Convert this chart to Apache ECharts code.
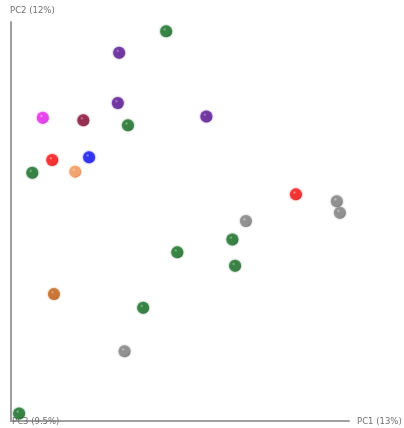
<!DOCTYPE html>
<html>
<head>
<meta charset="utf-8">
<script src="https://cdn.jsdelivr.net/npm/echarts@6/dist/echarts.min.js"></script>
<style>
  html, body { margin: 0; padding: 0; background: #ffffff; }
  #chart { width: 404px; height: 428px; }
</style>
</head>
<body>
<div id="chart"></div>
<script>
// PCoA sample coordinates (PC1, PC2), grouped by sample colour
const greenSamples   = [[45.9, 97.7], [34.6, 74.1], [6.3, 62.2], [65.5, 45.5], [49.2, 42.3], [66.3, 38.9], [39.1, 28.4], [2.4, 1.9]];
const purpleSamples  = [[32.0, 92.3], [31.6, 79.7], [57.8, 76.3]];
const magentaSamples = [[9.4, 76.0]];
const maroonSamples  = [[21.4, 75.4]];
const redSamples     = [[12.2, 65.4], [84.3, 56.8]];
const blueSamples    = [[23.1, 66.1]];
const peachSamples   = [[19.0, 62.5]];
const greySamples    = [[96.4, 55.1], [97.3, 52.2], [69.5, 50.1], [33.6, 17.5]];
const brownSamples   = [[12.7, 31.8]];

const axisTitles = { x: 'PC1 (13%)', y: 'PC2 (12%)', z: 'PC3 (9.5%)' };

const groups = [
  { name: 'green',   data: greenSamples,   base: '#2f7d3c', dark: '#18502a', hi: '#8cc496' },
  { name: 'purple',  data: purpleSamples,  base: '#6b2f9e', dark: '#421668', hi: '#b48ed6' },
  { name: 'magenta', data: magentaSamples, base: '#e43cec', dark: '#a418a8', hi: '#f6aef8' },
  { name: 'maroon',  data: maroonSamples,  base: '#93264a', dark: '#5e122c', hi: '#d08ca2' },
  { name: 'red',     data: redSamples,     base: '#f42a2a', dark: '#b81010', hi: '#fca0a0' },
  { name: 'blue',    data: blueSamples,    base: '#2a2af2', dark: '#1010b0', hi: '#a0a0fa' },
  { name: 'peach',   data: peachSamples,   base: '#f2a066', dark: '#c87038', hi: '#fad4b8' },
  { name: 'grey',    data: greySamples,    base: '#8c8c8c', dark: '#5a5a5a', hi: '#d0d0d0' },
  { name: 'brown',   data: brownSamples,   base: '#c8702e', dark: '#8e4616', hi: '#e8b68e' }
];

// shaded sphere look: soft highlight upper-left, darker rim
function sphere(g) {
  return {
    type: 'radial', x: 0.38, y: 0.35, r: 0.75,
    colorStops: [
      { offset: 0, color: g.hi },
      { offset: 0.2, color: g.base },
      { offset: 0.7, color: g.base },
      { offset: 1, color: g.dark }
    ]
  };
}

const labelFont = '8.5px "DejaVu Sans", sans-serif';

const chart = echarts.init(document.getElementById('chart'), null, { renderer: 'canvas' });

chart.setOption({
  animation: false,
  backgroundColor: '#ffffff',
  grid: { left: 11, right: 55, top: 22, bottom: 7 },
  xAxis: {
    type: 'value', min: 0, max: 100,
    axisLine: { show: true, lineStyle: { color: '#a0a0a0', width: 2 } },
    axisTick: { show: false }, axisLabel: { show: false }, splitLine: { show: false }
  },
  yAxis: {
    type: 'value', min: 0, max: 100,
    axisLine: { show: true, lineStyle: { color: '#a0a0a0', width: 2 } },
    axisTick: { show: false }, axisLabel: { show: false }, splitLine: { show: false }
  },
  graphic: [
    { type: 'text', left: 10, top: 6, z: 1,
      style: { text: axisTitles.y, fill: '#707070', font: labelFont } },
    { type: 'text', left: 357, top: 417, z: 1,
      style: { text: axisTitles.x, fill: '#707070', font: labelFont } },
    { type: 'text', left: 12, top: 417, z: 1,
      style: { text: axisTitles.z, fill: '#707070', font: labelFont } }
  ],
  series: groups.map(g => ({
    name: g.name,
    type: 'scatter',
    z: 5,
    symbol: 'circle',
    symbolSize: 12,
    data: g.data,
    itemStyle: {
      color: sphere(g),
      shadowBlur: 2,
      shadowColor: g.base
    }
  }))
});
</script>
</body>
</html>
